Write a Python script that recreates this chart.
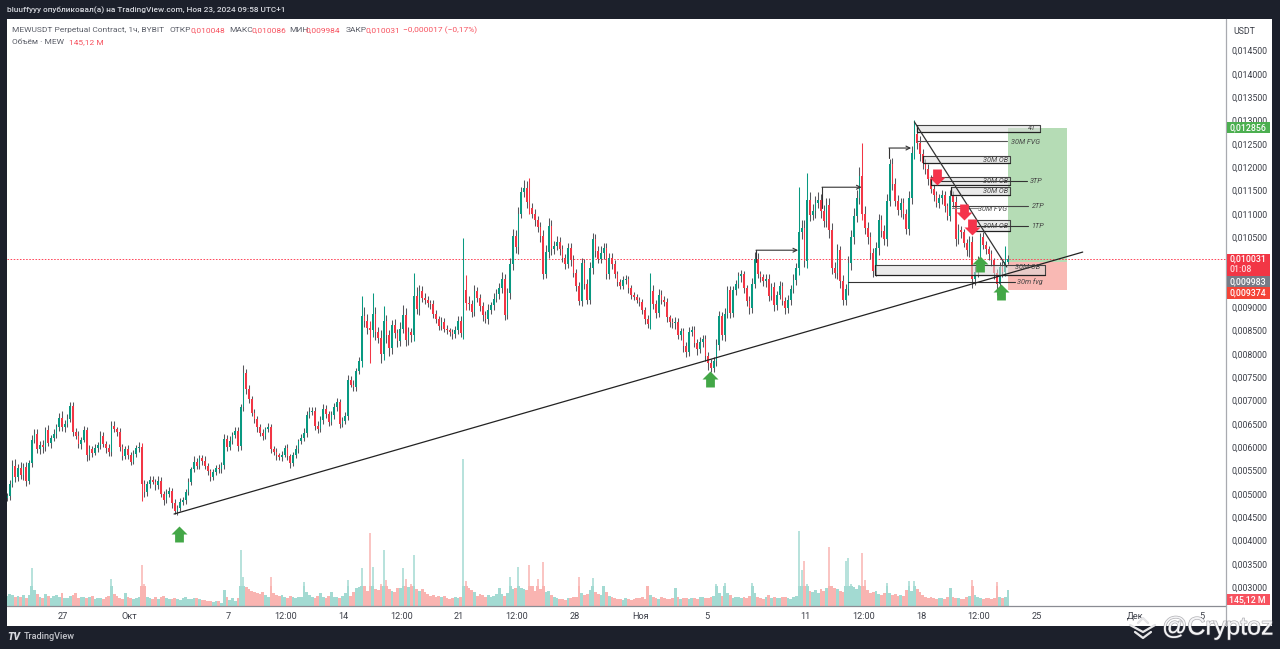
import numpy as np, pandas as pd, seaborn as sns
import matplotlib
matplotlib.use("Agg")
import matplotlib.pyplot as plt
import matplotlib.patheffects as pe
from matplotlib.path import Path
from matplotlib.lines import Line2D
from matplotlib.patches import Rectangle

# prices are in units of 0.0001 USDT, one candle per 4 hours
first_day = -3.394   # days after 27 Sep
closes = [
49.5,52.0,56.0,53.5,55.5,54.0,55.8,52.8,56.5,61.5,
62.8,59.6,60.4,60.0,63.6,60.9,62.0,62.8,64.2,66.2,
64.2,65.0,66.0,68.8,63.2,62.4,60.6,61.6,63.6,58.2,
59.6,58.8,59.8,60.4,62.4,60.6,59.8,58.9,64.6,63.8,
63.2,60.0,58.0,59.6,58.4,56.9,58.6,59.8,60.0,52.0,
50.4,52.0,53.0,52.6,51.8,52.8,50.0,48.6,50.0,50.6,
48.0,46.2,47.0,48.2,48.6,50.4,52.6,55.2,56.8,56.0,
57.6,57.0,56.0,54.8,53.6,54.6,55.6,55.2,56.2,61.8,
60.0,61.4,62.6,63.4,60.2,68.6,75.8,72.4,70.2,67.4,
66.0,64.2,63.0,62.4,63.8,64.4,59.6,59.0,58.2,57.8,
58.4,59.8,58.0,56.6,58.2,59.6,61.2,62.0,63.0,66.8,
67.6,67.8,64.6,63.8,65.8,68.2,67.0,65.4,66.8,68.6,
69.6,65.0,65.6,66.6,74.4,73.4,72.8,76.2,78.4,88.0,
87.0,85.6,85.0,88.6,84.6,83.4,80.0,87.0,84.0,81.2,
86.2,84.4,82.8,85.4,88.4,83.0,84.6,84.0,92.4,89.6,
93.4,92.0,91.6,90.8,90.6,88.6,87.4,86.0,86.8,85.4,
85.0,84.6,84.2,85.2,87.0,84.4,93.6,90.8,90.6,89.0,
93.4,92.0,90.2,88.4,87.4,89.4,90.4,91.8,92.8,94.0,
96.0,88.4,93.0,99.2,105.2,102.8,110.0,114.6,115.6,112.6,
111.2,110.0,108.6,107.2,105.2,97.2,101.8,107.4,102.4,103.2,
104.0,102.4,100.6,99.2,102.6,100.0,97.4,94.6,91.4,99.4,
95.0,91.6,98.4,104.6,102.0,100.4,101.6,102.6,97.0,100.6,
99.2,97.0,95.4,94.6,95.8,96.0,94.0,92.6,92.2,91.6,
91.0,89.4,87.4,86.4,93.4,90.6,88.8,92.6,91.6,91.0,
87.8,86.8,86.6,86.8,84.0,84.8,81.6,80.4,84.6,85.0,
82.4,81.0,82.6,83.2,79.6,78.0,77.0,78.4,81.8,88.0,
84.0,88.6,93.6,88.8,93.6,95.0,96.6,97.0,94.0,91.4,
89.8,95.0,100.4,97.0,96.4,95.6,96.0,92.4,94.4,90.4,
92.6,94.6,91.4,89.8,91.6,93.8,95.8,98.4,106.0,107.0,
99.8,113.0,109.8,110.6,112.4,113.0,110.6,108.4,111.8,106.6,
98.4,97.4,102.2,95.6,91.6,93.8,99.4,105.0,109.6,113.4,
118.0,110.0,107.0,105.0,101.6,97.8,102.6,108.6,106.4,104.6,
112.8,120.6,116.4,112.8,110.8,112.4,110.0,106.8,113.4,123.0,
127.2,125.2,122.8,120.8,119.6,117.4,115.4,114.0,112.4,113.4,
114.0,111.6,109.6,113.8,112.6,104.6,106.6,106.0,103.8,102.2,
104.0,96.0,97.6,99.8,105.0,103.4,102.4,101.4,100.0,97.4,
95.0,98.6,97.6,99.6,100.31]
first_open = 49.0
wick_up = [
0.6,1.0,1.2,1.4,0.8,1.2,0.8,1.0,0.8,1.0,
1.0,1.0,0.8,1.2,0.8,1.2,0.6,1.0,0.8,1.0,
1.6,0.8,1.0,0.8,0.8,0.8,1.0,0.6,1.0,0.8,
0.8,0.6,0.8,0.6,1.0,0.8,0.6,0.8,1.0,1.0,
0.6,0.8,0.6,0.6,0.8,0.6,0.8,0.6,1.0,0.8,
1.0,0.8,0.8,0.8,0.6,1.0,0.8,0.6,1.0,0.8,
0.6,0.8,0.6,0.8,0.8,0.6,0.8,0.6,1.2,0.8,
0.8,0.6,1.0,0.6,0.6,0.8,0.6,0.8,0.6,1.0,
0.8,1.0,0.6,0.8,1.0,0.6,1.8,1.0,0.8,0.8,
0.8,0.6,0.8,0.8,0.6,0.8,0.6,0.6,0.8,0.6,
0.8,0.6,0.8,0.6,0.8,0.8,0.6,0.8,1.0,1.0,
1.0,0.8,0.8,1.0,0.8,1.0,0.8,0.8,1.0,0.8,
1.0,0.8,0.8,1.0,1.0,0.8,1.0,0.8,1.0,4.4,
2.0,1.6,1.4,4.4,1.4,1.2,1.6,3.2,1.4,1.2,
1.0,1.2,1.0,1.4,2.0,1.4,1.2,1.0,5.0,2.0,
1.4,1.2,1.0,0.8,0.8,1.0,0.8,0.8,1.0,0.8,
0.8,0.6,0.8,0.8,1.0,1.0,11.2,3.2,1.6,1.0,
1.4,1.0,0.8,1.0,0.8,1.2,0.8,1.2,1.0,1.2,
1.6,1.2,1.2,1.4,1.6,1.4,1.4,1.2,1.6,1.4,
5.1,1.2,1.0,1.0,1.0,1.4,1.6,1.8,1.2,1.0,
1.2,1.0,1.0,0.8,1.2,1.2,1.2,0.8,0.8,1.2,
1.0,1.0,1.2,1.2,1.0,1.0,1.6,1.2,1.2,1.0,
1.0,0.8,0.8,0.6,0.8,0.8,0.6,0.8,0.6,0.6,
0.6,0.8,0.6,1.0,4.0,1.4,1.0,1.2,1.0,0.8,
1.0,0.6,0.8,1.0,0.8,0.8,0.8,1.0,1.2,1.0,
1.0,0.8,1.0,0.8,0.8,0.8,0.8,1.0,1.4,1.2,
1.0,1.2,1.0,1.0,1.0,0.8,1.0,1.0,0.8,0.8,
1.0,1.2,1.4,1.2,0.8,0.8,1.0,1.2,0.8,1.0,
0.8,1.0,0.8,0.8,1.0,1.0,1.2,1.0,9.7,1.6,
1.6,5.7,1.6,1.4,1.4,1.6,1.2,1.2,1.6,1.6,
1.4,1.2,1.4,1.0,1.2,1.2,1.6,1.6,1.6,1.8,
2.0,7.2,1.6,1.2,1.2,1.0,1.4,1.4,1.2,1.2,
1.4,1.2,1.4,1.2,1.2,1.0,1.0,1.0,1.4,1.6,
2.9,1.6,1.4,1.2,1.0,1.0,1.0,0.8,0.8,0.8,
1.0,0.8,0.8,1.2,1.0,1.2,1.2,0.8,0.8,0.8,
1.2,1.2,1.2,1.2,0.8,1.0,0.8,0.8,0.8,0.6,
0.8,1.0,1.2,3.5,0.8]
wick_down = [
0.6,0.8,0.6,1.0,0.8,0.8,1.0,1.2,0.8,0.8,
0.6,0.8,1.0,1.2,0.8,0.6,1.0,0.8,0.8,0.8,
0.8,1.0,0.8,0.6,0.8,0.6,0.8,1.0,0.6,1.2,
1.0,1.0,0.6,0.8,0.8,0.6,1.0,0.8,0.8,0.6,
0.8,0.8,0.8,0.6,1.0,0.8,0.6,0.8,0.8,3.5,
1.0,0.8,0.8,0.6,1.0,0.8,0.8,1.0,0.6,0.8,
1.0,0.6,0.8,0.6,0.6,0.8,0.6,0.8,0.6,0.8,
0.6,0.8,0.6,0.8,0.8,0.6,0.6,0.8,0.8,0.8,
0.8,0.6,0.8,0.6,1.0,0.8,0.8,1.0,0.8,0.8,
0.8,1.0,0.6,0.8,0.6,0.6,0.8,0.6,1.0,0.6,
0.8,0.6,0.8,1.0,0.6,0.6,0.8,0.6,0.8,0.8,
0.6,0.8,1.0,0.8,0.6,0.8,0.8,0.8,0.6,0.8,
0.8,1.0,0.8,0.6,0.8,0.6,0.8,0.8,0.6,1.2,
1.2,1.4,7.0,1.4,1.6,1.2,2.0,1.4,1.6,1.6,
1.2,1.0,1.4,1.2,1.0,1.4,1.2,1.4,1.2,1.0,
1.2,1.0,1.0,0.8,1.0,1.0,0.8,0.8,0.8,0.8,
0.8,0.8,1.0,0.8,1.0,0.8,1.2,1.4,1.2,1.2,
1.0,1.0,1.0,1.4,0.8,1.0,0.8,1.0,0.8,1.0,
1.0,1.2,1.0,1.2,1.2,1.2,1.4,1.0,1.0,1.4,
1.2,1.0,1.2,1.0,1.2,1.2,1.0,1.2,1.2,1.0,
1.0,1.2,1.0,1.0,0.8,1.2,1.0,1.2,1.0,1.2,
1.2,1.0,1.0,1.2,1.2,1.0,1.0,1.2,1.0,1.0,
1.0,0.8,0.8,0.8,0.8,0.8,1.0,0.8,0.6,0.8,
0.8,0.8,1.0,0.8,1.0,1.0,1.2,1.0,1.0,0.8,
1.0,1.0,1.0,1.2,0.8,1.0,1.2,1.0,0.8,0.8,
1.0,1.2,0.8,1.2,1.2,1.4,1.0,1.0,1.0,1.0,
1.0,1.2,1.0,1.2,1.0,1.0,0.8,1.2,1.0,1.2,
1.2,1.0,1.0,0.8,1.0,1.0,1.2,1.0,0.8,1.2,
1.0,0.8,1.0,1.2,1.0,1.2,0.8,1.0,1.6,1.4,
1.2,1.4,1.4,1.2,1.4,1.2,1.4,1.2,1.2,1.8,
1.4,1.2,1.4,1.6,1.2,1.2,1.2,1.4,1.4,1.4,
1.2,1.4,1.4,1.4,1.2,1.4,1.2,1.4,1.4,1.2,
1.4,1.2,1.2,1.2,1.0,1.4,1.2,1.2,1.4,1.4,
1.2,1.4,1.4,1.2,1.0,1.2,1.0,1.2,1.0,1.2,
1.2,1.2,1.0,1.2,1.2,1.4,1.0,1.2,1.0,1.2,
1.4,2.0,1.2,1.2,1.0,1.0,1.0,1.2,1.2,1.4,
2.4,1.0,1.2,1.0,0.4]
volume_m = [
210,260,240,180,220,200,240,170,230,800,
330,250,190,170,260,220,170,210,230,200,
270,170,160,220,240,280,170,190,180,160,
200,220,140,160,170,150,180,220,570,250,
210,170,150,270,200,160,140,170,190,860,
470,200,160,150,180,140,190,220,160,140,
150,170,140,120,160,180,140,150,170,160,
150,120,130,110,100,80,110,100,70,330,
180,120,170,110,160,1180,610,400,350,310,
290,270,250,290,240,200,610,270,230,210,
240,200,170,220,190,160,200,190,510,290,
230,180,170,210,270,190,160,220,300,180,
200,160,220,270,550,210,290,370,400,800,
430,310,1550,820,350,330,470,1180,550,350,
310,290,370,390,800,570,400,470,1070,360,
310,350,290,250,220,240,200,210,180,220,
170,150,160,190,170,200,3100,530,390,330,
290,210,260,230,190,240,180,220,250,390,
250,220,280,610,350,390,820,390,350,330,
860,430,310,570,350,940,290,320,230,180,
160,140,150,120,160,170,180,200,610,280,
230,250,330,590,290,250,230,430,290,210,
180,160,150,140,120,160,140,120,150,170,
160,180,150,430,230,180,160,150,190,160,
140,150,160,390,180,150,170,160,140,160,
170,150,200,180,160,170,190,220,470,280,
210,490,280,230,170,180,190,160,200,170,
220,490,280,180,170,150,200,240,170,180,
160,170,200,180,160,150,190,210,1590,750,
950,470,310,290,330,270,350,310,390,1240,
430,370,350,310,290,950,1010,470,410,350,
450,1130,550,330,270,290,310,250,230,270,
490,280,230,260,220,240,210,330,530,310,
530,350,290,230,200,170,180,160,150,170,
160,150,180,390,200,170,160,150,140,180,
210,550,230,180,160,150,160,170,150,160,
510,190,160,180,340]
volume_body_cap = 420  # taller bars are thin one-pixel spikes in the picture

price_ticks = [30,35,40,45,50,55,60,65,70,75,80,85,90,105,110,115,120,125,130,135,140,145]
time_tick_days = [0,4,10,13.5,17,20.5,24,27.5,31,35,39,45,48.5,52,55.5,59,65,69]
time_tick_labels = ['27','Окт','7','12:00','14','12:00','21','12:00','28','Ноя','5','11','12:00','18','12:00','25','Дек','5']

FIG_W, FIG_H = 1280, 649
DARK = '#1c202b'
TEAL, RED = '#089981', '#f23645'
UI = 'Roboto'

sns.set_theme(style='white')
plt.rcParams['font.family'] = [UI, 'DejaVu Sans']

fig = plt.figure(figsize=(FIG_W/100, FIG_H/100), dpi=100, facecolor=DARK)
def fx(x): return x/FIG_W
def fy(y): return 1 - y/FIG_H
def ftext(x, y, s, **kw):
    kw.setdefault('va', 'center'); kw.setdefault('fontsize', 6.05)
    return fig.text(fx(x), fy(y), s, **kw)

fig.add_artist(Rectangle((fx(7), fy(626)), fx(1265), (626-19)/FIG_H, facecolor='white', edgecolor='none', transform=fig.transFigure, zorder=-5))

ax_v = fig.add_axes([fx(7), fy(606), fx(1219), 587/FIG_H])
ax = ax_v.twinx()

n = len(closes)
days = first_day + np.arange(n)/6
opens = np.r_[first_open, closes[:-1]]
c = np.array(closes); up = c >= opens
vol = np.array(volume_m, float)
df = pd.DataFrame({'day': np.round(days, 4), 'vol': np.minimum(vol, volume_body_cap), 'dir': np.where(up, 'up', 'down')})

# volume pane
VOL_UP, VOL_DOWN = '#a3dad2', '#f9b4b1'
sns.barplot(data=df, x='day', y='vol', hue='dir', palette={'up': VOL_UP, 'down': VOL_DOWN},
            native_scale=True, dodge=False, width=1.0, saturation=1, errorbar=None,
            legend=False, linewidth=0, ax=ax_v)
tall = vol > volume_body_cap
ax_v.vlines(days[tall], 0, vol[tall], colors=np.where(up[tall], VOL_UP, VOL_DOWN), lw=1.1)
ax_v.set_ylim(0, 12400)
ax_v.set_xlabel(''); ax_v.set_ylabel(''); ax_v.set_yticks([])

# candles: short wicks read as dark grey in the dense chart, long ones keep their colour
high = np.maximum(opens, c) + np.array(wick_up)
low = np.minimum(opens, c) - np.array(wick_down)
cols = np.where(up, TEAL, RED)
long_wick = (np.array(wick_up) > 2.5) | (np.array(wick_down) > 2.5)
ax.vlines(days[~long_wick], low[~long_wick], high[~long_wick], colors='#56565c', lw=0.75, zorder=3)
ax.vlines(days[long_wick], low[long_wick], high[long_wick], colors=cols[long_wick], lw=0.75, zorder=3)
ax.bar(days, np.maximum(np.abs(c-opens), 0.15), bottom=np.minimum(opens, c), width=0.12, color=cols, linewidth=0, zorder=3)

XLIM = (-3.394, 70.485)
YLIM = (25.93, 151.76)
ax.set_xlim(*XLIM); ax.set_ylim(*YLIM); ax_v.set_xlim(*XLIM)

# long/short position
long_x = [57.27, 60.85]
ax.fill_between(long_x, 99.7, 128.5, color='#b5dcb5', lw=0, zorder=1)
ax.fill_between(long_x, 93.74, 99.7, color='#f9b9b4', lw=0, zorder=1)

# last-price line
ax.plot(XLIM, [100.31, 100.31], color='#ff4458', lw=0.7, ls=(0, (1.6, 1.6)), zorder=2, solid_capstyle='butt')

# zone boxes: left, right, bottom, top
boxes = [(51.76, 59.2, 127.5, 129.0), (52.1, 57.4, 120.9, 122.4), (52.6, 57.4, 116.2, 117.9),
         (53.8, 57.4, 114.0, 115.7), (55.15, 57.4, 106.3, 108.7), (49.2, 59.5, 96.9, 99.0)]
for l, r, b, t in boxes:
    ax.add_patch(Rectangle((l, b), r-l, t-b, facecolor='#dcdcdc', alpha=.55, edgecolor='none', zorder=4))
    ax.plot([l, r, r], [t, t, b], color='#444', lw=0.8, zorder=5)
    ax.plot([l, l, r], [t, b, b], color='#222', lw=0.9, zorder=5)

# level lines: start, end, price, colour
levels = [(51.76, 57.2, 125.6, '#555'), (53.0, 58.4, 117.0, '#333'), (53.9, 58.5, 111.7, '#444'),
          (53.9, 55.45, 111.2, '#888'), (55.15, 58.5, 107.4, '#333'), (47.6, 57.7, 95.4, '#333')]
for l, r, p, col in levels:
    ax.plot([l, r], [p, p], color=col, lw=0.8, zorder=5)

# trend lines
trend = pd.DataFrame({'d': [6.73, 61.8], 'p': [45.65, 101.8]})
sns.lineplot(data=trend, x='d', y='p', color='#222', lw=0.9, ax=ax, zorder=6, errorbar=None)
fall = pd.DataFrame({'d': [51.6, 57.2], 'p': [129.7, 98.6]})
sns.lineplot(data=fall, x='d', y='p', color='#333', lw=0.9, ax=ax, zorder=6, errorbar=None)
ax.set_xlabel(''); ax.set_ylabel('')

# elbow arrows: start day, bottom, top, end day
elbows = [(42.0, 99.7, 102.2, 44.55), (46.0, 111.2, 115.7, 48.4), (50.06, 122.0, 124.1, 51.4)]
for d0, p0, p1, d1 in elbows:
    ax.plot([d0, d0], [p0, p1], color='#333', lw=0.8, zorder=6)
    ax.annotate('', xy=(d1, p1), xytext=(d0, p1), zorder=6,
                arrowprops=dict(arrowstyle='->', color='#333', lw=0.8, shrinkA=0, shrinkB=0, mutation_scale=7))

# labels inside the chart
labels = [('4T', 59.0, 128.4, 'right'), ('30M FVG', 57.45, 125.4, 'left'), ('30M OB', 57.3, 121.6, 'right'),
          ('30M OB', 57.3, 117.0, 'right'), ('3TP', 58.6, 117.0, 'left'), ('30M OB', 57.3, 114.9, 'right'),
          ('30M FVG', 57.2, 111.0, 'right'), ('2TP', 58.7, 111.7, 'left'), ('30M OB', 57.3, 107.4, 'right'),
          ('1TP', 58.7, 107.4, 'left'), ('30M OB', 59.2, 98.6, 'right'), ('30m fvg', 57.8, 95.4, 'left')]
for s, d, p, ha in labels:
    ax.text(d, p, s, fontsize=5.2, style='italic', color='#444', ha=ha, va='center', zorder=7)

# block arrows
up_arrow = Path([(0, 1), (1, 0), (.55, 0), (.55, -1), (-.55, -1), (-.55, 0), (-1, 0), (0, 1)], closed=True)
down_arrow = Path([(0, -1), (1, 0), (.55, 0), (.55, 1), (-.55, 1), (-.55, 0), (-1, 0), (0, -1)], closed=True)
green_days, green_prices = [7.03, 39.2, 55.6, 56.85], [41.4, 74.6, 99.2, 93.2]
red_days, red_prices = [53.0, 54.6, 55.1], [117.9, 110.4, 107.2]
ax.plot(green_days, green_prices, ls='', marker=up_arrow, ms=11.5, color='#43a747', mec='none', zorder=8)
ax.plot(red_days, red_prices, ls='', marker=down_arrow, ms=11.5, color='#f5334b', mec='none', zorder=8)

# axes cosmetics
for a in (ax, ax_v):
    for s in a.spines.values():
        s.set_visible(False)
ax_v.set_xticks(time_tick_days)
ax_v.set_xticklabels(time_tick_labels, fontsize=6.6, color='#3c3f48')
ax_v.tick_params(axis='x', length=0, pad=4)
ax.set_yticks(price_ticks)
ax.set_yticklabels(['0,%06d' % (t*100) for t in price_ticks], fontsize=6.3, color='#3c3f48')
ax.tick_params(axis='y', length=0, pad=4, right=True, labelright=True, left=False, labelleft=False)
ax.grid(False); ax_v.grid(False)

fig.add_artist(Line2D([fx(7), fx(1226)], [fy(606), fy(606)], color='#8a8c93', lw=0.9, transform=fig.transFigure))
fig.add_artist(Line2D([fx(1226), fx(1226)], [fy(19), fy(626)], color='#a8aab0', lw=0.9, transform=fig.transFigure))

# price labels on the scale
def tag(y0, y1, col, x1=1270):
    fig.add_artist(Rectangle((fx(1226.5), fy(y1)), fx(x1-1226.5), (y1-y0)/FIG_H, facecolor=col, edgecolor='none',
                             transform=fig.transFigure, zorder=10))
tag(122, 133, '#4caf50'); tag(254, 276, '#f23645'); tag(276, 287, '#787b86'); tag(287, 299, '#f44336'); tag(594, 605, '#f7525f')
tagkw = dict(color='white', ha='center', fontsize=6.3, zorder=11, fontweight='medium')
ftext(1248, 127.5, '0,012856', **tagkw)
ftext(1248, 259, '0,010031', **tagkw)
ftext(1241, 269.5, '01:08', **{**tagkw, 'color': '#ffd9dc'})
ftext(1248, 281.5, '0,009983', **tagkw)
ftext(1248, 293, '0,009374', **tagkw)
ftext(1247, 599.5, '145,12 M', **tagkw)
ftext(1244, 31, 'USDT', color='#3c3f48', ha='center', fontsize=6.3)

# header and legend
ftext(7, 10, 'bluuffyyy опубликовал(а) на TradingView.com, Ноя 23, 2024 09:58 UTC+1', color='#d6d8de', fontsize=5.95, fontweight='medium')
GREY, PINK = '#5b5e68', '#f7525f'
legend_parts = [(12, 'MEWUSDT Perpetual Contract, 1ч, BYBIT', GREY), (170, 'ОТКР', GREY), (190.5, '0,010048', PINK),
                (229, 'МАКС', GREY), (251, '0,010086', PINK), (289, 'МИН', GREY), (306, '0,009984', PINK),
                (346, 'ЗАКР', GREY), (365, '0,010031', PINK), (403, '−0,000017 (−0,17%)', PINK)]
for x, s, col in legend_parts:
    ftext(x, 32, s, color=col, va='baseline')
ftext(12, 44, 'Объём · MEW', color=GREY, va='baseline')
ftext(69, 44, '145,12 M', color=PINK, va='baseline')

# footer
ftext(7, 636.5, 'TV', color='#d6d8de', fontsize=7.5, fontweight='black', style='italic')
ftext(24, 636.5, 'TradingView', color='#c4c6cc', fontsize=6.6, fontweight='medium')

# watermark
shadow = [pe.withStroke(linewidth=1.0, foreground=(0.45, 0.45, 0.48, 0.55))]
for xs, ys in [((1130, 1143, 1155), (625, 632, 625)), ((1135, 1143, 1151), (632, 638, 632)), ((1138, 1143, 1148), (623, 618, 623))]:
    l = Line2D([fx(v) for v in xs], [fy(v) for v in ys], color='#e6e6e8', lw=1.6, transform=fig.transFigure, zorder=20)
    l.set_path_effects(shadow)
    fig.add_artist(l)
ftext(1162, 627.5, '@Cryptoz', color='#f4f4f6', fontsize=18, family='Liberation Sans', zorder=20, path_effects=shadow)

fig.savefig('out.png', dpi=100, facecolor=DARK)
